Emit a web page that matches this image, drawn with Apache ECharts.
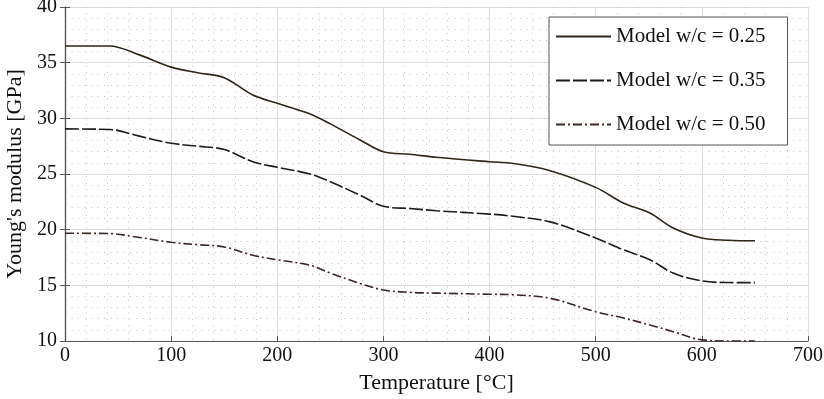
<!DOCTYPE html>
<html>
<head>
<meta charset="utf-8">
<script src="https://cdn.jsdelivr.net/npm/echarts@6/dist/echarts.min.js"></script>
<style>html,body{margin:0;padding:0;background:#fff}#c{width:824px;height:399px}</style>
</head>
<body>
<div id="c"></div>
<script>
const temps = [0, 42, 70, 100, 125, 150, 177, 200, 231, 250, 278, 300, 325, 350, 400, 422, 457, 500, 526, 551, 573, 600, 625, 650];
const wc025 = [36.5, 36.5, 35.7, 34.6, 34.1, 33.65, 32.1, 31.35, 30.4, 29.5, 28.06, 27.0, 26.77, 26.5, 26.1, 25.95, 25.3, 23.8, 22.4, 21.5, 20.15, 19.25, 19.05, 19.0];
const wc035 = [29.05, 29.0, 28.4, 27.76, 27.5, 27.2, 26.1, 25.6, 25.0, 24.3, 23.1, 22.1, 21.9, 21.7, 21.4, 21.2, 20.7, 19.25, 18.2, 17.3, 16.1, 15.4, 15.25, 15.24];
const wc050 = [19.68, 19.65, 19.3, 18.87, 18.65, 18.45, 17.7, 17.3, 16.8, 16.1, 15.17, 14.58, 14.37, 14.3, 14.2, 14.15, 13.84, 12.63, 12.07, 11.44, 10.84, 10.1, 10.0, 10.0];
const seriesNames = ['Model w/c = 0.25', 'Model w/c = 0.35', 'Model w/c = 0.50'];
const xTicks = [0, 100, 200, 300, 400, 500, 600, 700];
const yTicks = [10, 15, 20, 25, 30, 35, 40];

const font = '"Liberation Serif", "DejaVu Serif", serif';
const pair = (ys) => temps.map((t, i) => [t, ys[i]]);

const chart = echarts.init(document.getElementById('c'), null, {renderer: 'canvas'});
const axisCommon = {
  axisLine: {show: true, onZero: false, lineStyle: {color: '#555', width: 1.2}},
  axisTick: {show: true, inside: true, length: 5, lineStyle: {color: '#555'}},
  splitLine: {show: true, lineStyle: {color: '#dcdcdc', width: 1}},
  minorTick: {show: false, splitNumber: 5},
  minorSplitLine: {show: true, lineStyle: {color: '#c4c4c4', width: 1, type: [1, 5.5]}},
  axisLabel: {fontFamily: font, fontSize: 20, color: '#111'}
};
chart.setOption({
  animation: false,
  grid: {left: 65, right: 16, top: 7, bottom: 58, containLabel: false, outerBoundsMode: 'none'},
  xAxis: Object.assign({}, axisCommon, {
    type: 'value', min: xTicks[0], max: xTicks[xTicks.length - 1], interval: 100,
    name: 'Temperature [°C]', nameLocation: 'middle', nameGap: 31,
    nameTextStyle: {fontFamily: font, fontSize: 22, color: '#111'},
    axisLabel: Object.assign({}, axisCommon.axisLabel, {margin: 5})
  }),
  yAxis: [Object.assign({}, axisCommon, {
    type: 'value', min: yTicks[0], max: yTicks[yTicks.length - 1], interval: 5,
    name: "Young's modulus [GPa]", nameLocation: 'middle', nameGap: 39,
    nameTextStyle: {fontFamily: font, fontSize: 22, color: '#111'},
    axisLabel: Object.assign({}, axisCommon.axisLabel, {margin: 8})
  }), {
    type: 'value', min: yTicks[0], max: yTicks[yTicks.length - 1], interval: 5, position: 'right',
    axisLine: {show: true, lineStyle: {color: '#555', width: 1.2}},
    axisTick: {show: true, inside: true, length: 5, lineStyle: {color: '#555'}},
    axisLabel: {show: false}, splitLine: {show: false}
  }],
  legend: {
    left: 549, top: 17, orient: 'vertical',
    backgroundColor: '#fff', borderColor: '#555', borderWidth: 1,
    padding: [9, 22, 10, 6], itemGap: 23, itemWidth: 55, itemHeight: 14,
    itemStyle: {color: 'transparent', borderColor: 'transparent', borderWidth: 0},
    textStyle: {fontFamily: font, fontSize: 21, color: '#111'},
    data: seriesNames
  },
  series: [
    {name: seriesNames[0], type: 'line', data: pair(wc025), symbol: 'none', smooth: 0.35,
     lineStyle: {color: '#2e2618', width: 1.6, type: 'solid'}, itemStyle: {color: '#2e2618'}},
    {name: seriesNames[1], type: 'line', data: pair(wc035), symbol: 'none', smooth: 0.35,
     lineStyle: {color: '#1e1a16', width: 1.6, type: [14, 3]}, itemStyle: {color: '#1e1a16'}},
    {name: seriesNames[2], type: 'line', data: pair(wc050), symbol: 'none', smooth: 0.35,
     lineStyle: {color: '#3a2622', width: 1.6, type: [9, 3, 2, 3]}, itemStyle: {color: '#3a2622'}}
  ]
});
</script>
</body>
</html>
